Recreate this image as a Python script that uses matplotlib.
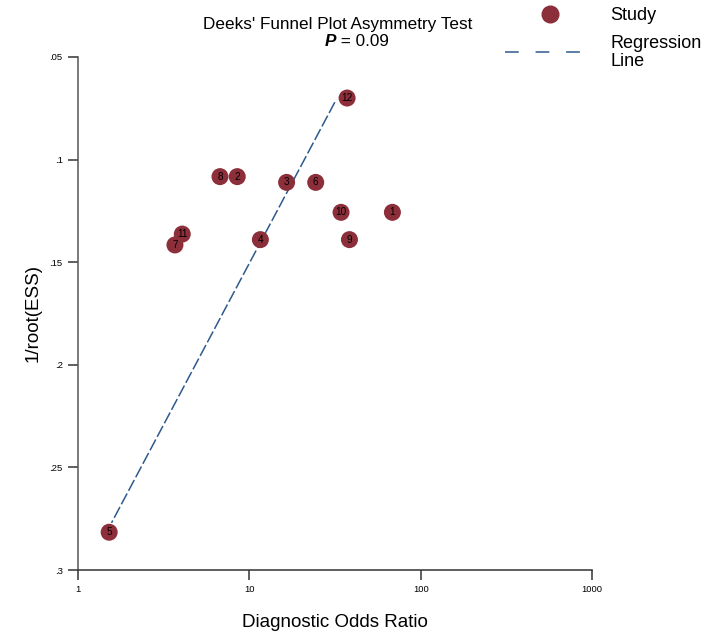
import numpy as np
import matplotlib
matplotlib.use("Agg")
import matplotlib.pyplot as plt
from matplotlib.lines import Line2D

plt.rcParams["font.family"] = ["Liberation Sans", "DejaVu Sans"]

# Study data
study_ids = ["1", "2", "3", "4", "5", "6", "7", "8", "9", "10", "11", "12"]
dor = [68.4, 8.5, 16.5, 11.6, 1.52, 24.4, 3.68, 6.74, 38.4, 34.3, 4.06, 37.2]
inv_root_ess = [0.1257, 0.1083, 0.1111, 0.1390, 0.2816, 0.1111, 0.1416, 0.1083,
                0.1390, 0.1257, 0.1363, 0.0700]

# Deeks regression: ln(DOR) = intercept + slope * 1/root(ESS)
reg_intercept = 4.506
reg_slope = -14.64
reg_y_range = [0.072, 0.277]

x_ticks = [1, 10, 100, 1000]
x_tick_labels = ["1", "10", "100", "1000"]
y_ticks = [0.05, 0.1, 0.15, 0.2, 0.25, 0.3]
y_tick_labels = [".05", ".1", ".15", ".2", ".25", ".3"]

point_color = "#8c2f3a"
line_color = "#2d5a8c"

W, H = 705, 637
fig = plt.figure(figsize=(W / 100, H / 100), dpi=100)
ax = fig.add_axes([78 / W, 1 - 570 / H, 514 / W, 513 / H])

# regression line
ry = np.array(reg_y_range)
rx = np.exp(reg_intercept + reg_slope * ry)
ax.plot(rx, ry, color=line_color, lw=1.1, dashes=(8, 2), zorder=2)

# study points
ax.scatter(dor, inv_root_ess, s=150, color=point_color, edgecolors="none", zorder=3)
for sid, x, y in zip(study_ids, dor, inv_root_ess):
    ax.text(x, y, sid, ha="center", va="center", fontsize=7.2, color="black", zorder=4)

ax.set_xscale("log")
ax.set_xlim(1, 1000)
ax.set_ylim(0.3, 0.05)
ax.set_xticks(x_ticks)
ax.set_xticklabels(x_tick_labels)
ax.set_yticks(y_ticks)
ax.set_yticklabels(y_tick_labels)
ax.minorticks_off()
ax.tick_params(axis="both", direction="out", length=7, width=1.1, labelsize=6.8,
               colors="#333333", labelcolor="black", pad=4)

for side in ["top", "right"]:
    ax.spines[side].set_visible(False)
ax.spines["left"].set_color("#555555")
ax.spines["bottom"].set_color("#333333")
ax.spines["left"].set_linewidth(1.1)
ax.spines["bottom"].set_linewidth(1.1)

ax.set_xlabel("Diagnostic Odds Ratio", fontsize=13.5, labelpad=14)
ax.set_ylabel("1/root(ESS)", fontsize=13.5, labelpad=6)

# title
cx = 338 / W
fig.text(cx, 1 - 25 / H, "Deeks' Funnel Plot Asymmetry Test", ha="center",
         va="center", fontsize=12.3)
fig.text(cx - 0.003, 1 - 42 / H, "P", ha="right", va="center", fontsize=12.3,
         fontweight="bold", fontstyle="italic")
fig.text(cx - 0.003, 1 - 42 / H, " = 0.09", ha="left", va="center", fontsize=12.3)

# legend (drawn in figure pixels)
fig.add_artist(Line2D([550 / W], [1 - 14 / H], marker="o", linestyle="none",
                      markersize=13, markerfacecolor=point_color,
                      markeredgecolor="none", transform=fig.transFigure))
fig.text(610 / W, 1 - 15 / H, "Study", ha="left", va="center", fontsize=13)
fig.add_artist(Line2D([505 / W, 595 / W], [1 - 52 / H, 1 - 52 / H], color=line_color,
                      lw=1.1, dashes=(9, 11), transform=fig.transFigure))
fig.text(610 / W, 1 - 43 / H, "Regression", ha="left", va="center", fontsize=13)
fig.text(610 / W, 1 - 61 / H, "Line", ha="left", va="center", fontsize=13)

fig.savefig("out.png", dpi=100)
